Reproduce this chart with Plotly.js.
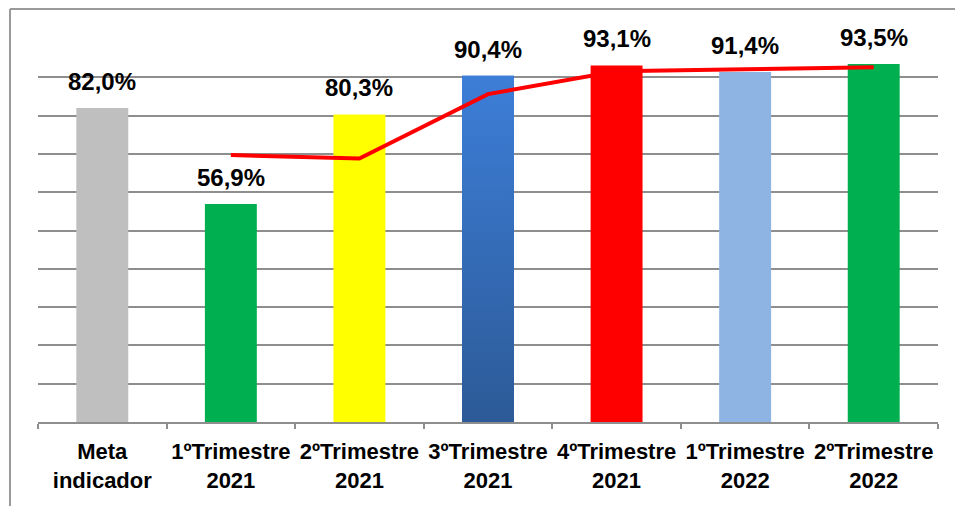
<!DOCTYPE html>
<html>
<head>
<meta charset="utf-8">
<script src="https://cdn.plot.ly/plotly-3.0.1.min.js"></script>
<style>
  html, body { margin: 0; padding: 0; background: #ffffff; }
  #chart { width: 955px; height: 506px; }
</style>
</head>
<body>
<div id="chart"></div>
<script>
const categories = [
  "Meta<br>indicador",
  "1ºTrimestre<br>2021",
  "2ºTrimestre<br>2021",
  "3ºTrimestre<br>2021",
  "4ºTrimestre<br>2021",
  "1ºTrimestre<br>2022",
  "2ºTrimestre<br>2022"
];
const barValues = [82.0, 56.9, 80.3, 90.4, 93.1, 91.4, 93.5];
const lineValues = [null, 69.7, 68.8, 85.6, 91.6, 92.1, 92.6];
const barColors = ["#BFBFBF", "#00B050", "#FFFF00", "#3670C0", "#FF0000", "#8EB4E3", "#00B050"];
const gradientBarIndex = 3;

const FONT = "Liberation Sans, Arial, sans-serif";
const barWidth = 0.404;

const idx = categories.map((c, i) => i);

const bars = {
  type: "bar",
  x: categories,
  y: barValues,
  marker: { color: barColors, line: { width: 0 } },
  hoverinfo: "skip",
  showlegend: false
};

const gi = gradientBarIndex;
const gradBar = {
  type: "scatter",
  xaxis: "x2",
  x: [gi - barWidth / 2, gi + barWidth / 2, gi + barWidth / 2, gi - barWidth / 2, gi - barWidth / 2],
  y: [0, 0, barValues[gi], barValues[gi], 0],
  mode: "lines",
  line: { width: 0 },
  fill: "toself",
  fillcolor: "#3670C0",
  fillgradient: { type: "vertical", colorscale: [[0, "#2C5A97"], [1, "#3D7ED8"]] },
  hoverinfo: "skip",
  showlegend: false
};

const line = {
  type: "scatter",
  xaxis: "x2",
  x: idx,
  y: lineValues,
  mode: "lines",
  line: { color: "#FF0000", width: 4 },
  hoverinfo: "skip",
  showlegend: false
};

const annotations = barValues.map((v, i) => ({
  xref: "x",
  yref: "y",
  x: categories[i],
  y: v,
  text: v.toFixed(1).replace(".", ",") + "%",
  showarrow: false,
  yanchor: "bottom",
  yshift: 11,
  font: { family: FONT, size: 24, color: "#000000", weight: 700 }
}));

const lineColor = "#8E8E8E";
const layout = {
  width: 955,
  height: 506,
  margin: { l: 38, r: 17, t: 39, b: 84 },
  paper_bgcolor: "#ffffff",
  plot_bgcolor: "#ffffff",
  bargap: 0.596,
  font: { family: FONT, color: "#000000" },
  xaxis: {
    type: "category",
    showgrid: false,
    showline: true,
    linecolor: lineColor,
    linewidth: 2,
    ticks: "outside",
    tickson: "boundaries",
    ticklen: 5,
    tickwidth: 2,
    tickcolor: lineColor,
    tickangle: 0,
    ticklabelstandoff: 9,
    automargin: false,
    tickfont: { family: FONT, size: 22, color: "#000000", weight: 700 },
    fixedrange: true
  },
  xaxis2: {
    type: "linear",
    overlaying: "x",
    range: [-0.5, categories.length - 0.5],
    visible: false,
    fixedrange: true
  },
  yaxis: {
    range: [0, 100],
    dtick: 10,
    tick0: 0,
    showticklabels: false,
    showgrid: true,
    gridcolor: lineColor,
    gridwidth: 2,
    zeroline: false,
    showline: false,
    ticks: "",
    fixedrange: true
  },
  annotations: annotations,
  shapes: [
    { type: "line", xref: "paper", yref: "paper", x0: -0.0311, x1: -0.0311, y0: -0.25, y1: 1.0783,
      line: { color: "#9A9A9A", width: 2 } },
    { type: "line", xref: "paper", yref: "paper", x0: -0.0311, x1: 1.03, y0: 1.0783, y1: 1.0783,
      line: { color: "#9A9A9A", width: 2 } }
  ],
  showlegend: false
};

Plotly.newPlot("chart", [bars, gradBar, line], layout, { displayModeBar: false, staticPlot: true });
</script>
</body>
</html>
